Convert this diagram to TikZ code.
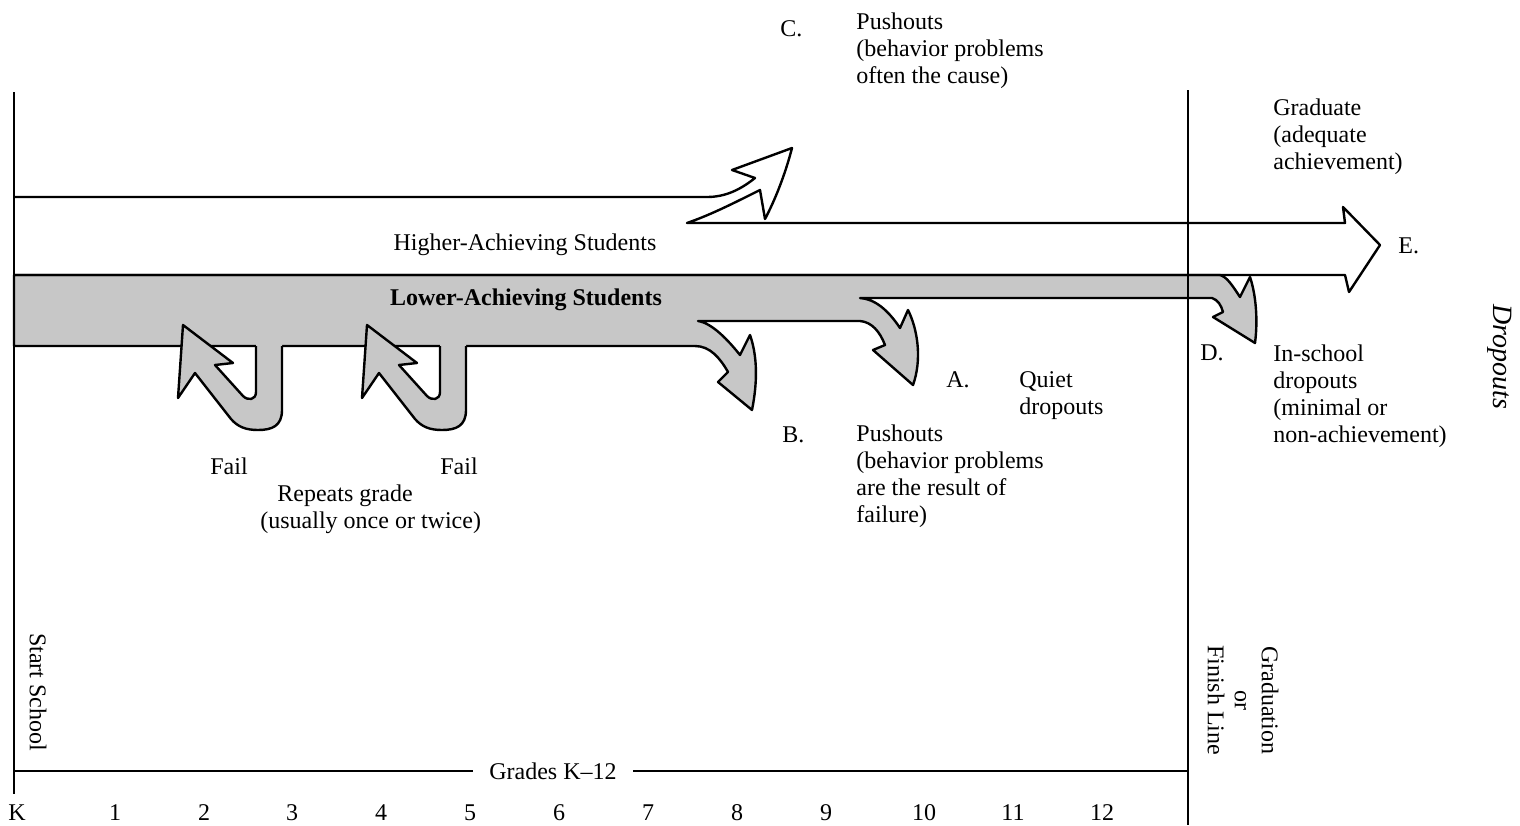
\documentclass[tikz,border=0pt]{standalone}
\usepackage{fontspec}
\setmainfont{Liberation Serif}
\definecolor{lowgray}{gray}{0.78}

\begin{document}
\begin{tikzpicture}[x=0.5pt,y=-0.5pt,
  every node/.style={font=\fontsize{12}{13.5}\selectfont,inner sep=0pt},
  lbl/.style={anchor=base west},
  blk/.style={anchor=north west,align=left},
  arr/.style={line width=1.2pt,line join=round},
  frame/.style={line width=1pt}]
\useasboundingbox (0,0) rectangle (1520,825);

% lower band with the dropout arrows B, A and D
\filldraw[arr,fill=lowgray] (14,346) -- (695,346) .. controls (710,346) and (720,358) .. (728,372)
  -- (718,382) -- (752,410) .. controls (758,380) and (757,355) .. (750,335)
  -- (740,355) .. controls (728,340) and (712,323) .. (698,321) -- (860,321)
  .. controls (872,322) and (880,332) .. (885,345) -- (873,350) -- (913,385)
  .. controls (922,360) and (918,330) .. (908,310) -- (900,328)
  .. controls (888,310) and (875,299) .. (860,298) -- (1212,298)
  .. controls (1218,300) and (1221,305) .. (1223,312) -- (1213,317) -- (1255,343)
  .. controls (1258,320) and (1256,295) .. (1250,277) -- (1240,297)
  .. controls (1232,285) and (1227,277) .. (1220,275) -- (14,275) -- cycle;

% repeats grade loops
\foreach \dx in {0,184} {
  \fill[lowgray,shift={(\dx,0)}] (282,340) -- (282,410) .. controls (282,426) and (272,430) .. (258,430)
    .. controls (246,430) and (238,427) .. (231,419) -- (195,373) -- (178,398) -- (183,325)
    -- (233,363) -- (215,365) -- (243,396) .. controls (248,401) and (256,400) .. (256,392)
    -- (256,340) -- cycle;
  \draw[arr,shift={(\dx,0)}] (282,346) -- (282,410) .. controls (282,426) and (272,430) .. (258,430)
    .. controls (246,430) and (238,427) .. (231,419) -- (195,373) -- (178,398) -- (183,325)
    -- (233,363) -- (215,365) -- (243,396) .. controls (248,401) and (256,400) .. (256,392)
    -- (256,346);
}

% higher band with pushout C and graduate E
\draw[arr] (14,197) -- (707,197) .. controls (725,197) and (740,190) .. (755,178)
  -- (732,170) -- (792,148) .. controls (785,175) and (775,200) .. (765,219)
  -- (760,190) .. controls (730,205) and (710,215) .. (687,223) -- (1345,223)
  -- (1343,207) -- (1380,245) -- (1349,292) -- (1345,275) -- (14,275);

\draw[frame] (14,92) -- (14,794);
\draw[frame] (1188,90) -- (1188,825);
\draw[frame] (14,771) -- (1188,771);

\node[lbl] (cdot) at (780,36) {C.};
\node[blk] (cpush) at (856,12) {Pushouts\\(behavior problems\\often the cause)};
\node[blk] (grad) at (1273,98) {Graduate\\(adequate\\achievement)};
\node[lbl] (edot) at (1398,253) {E.};
\node[anchor=base] (high) at (525,250) {Higher-Achieving Students};
\node[anchor=base,font=\fontsize{12}{13.5}\selectfont\bfseries] (low) at (526,305) {Lower-Achieving Students};
\node[lbl] (ddot) at (1200,360) {D.};
\node[blk] (insch) at (1273,344) {In-school\\dropouts\\(minimal or\\non-achievement)};
\node[lbl] (adot) at (946,387) {A.};
\node[blk] (quiet) at (1019,371) {Quiet\\dropouts};
\node[lbl] (bdot) at (782,442) {B.};
\node[blk] (bpush) at (856,424) {Pushouts\\(behavior problems\\are the result of\\failure)};
\node[lbl] (fail1) at (210,474) {Fail};
\node[lbl] (fail2) at (440,474) {Fail};
\node[lbl] (rep) at (277,501) {Repeats grade};
\node[lbl] (usu) at (260,528) {(usually once or twice)};

\node[rotate=-90] (start) at (38,692) {Start School};
\node[rotate=-90,align=center] (finish) at (1243,700) {Graduation\\or\\Finish Line};
\node[rotate=-90,font=\fontsize{14}{16}\selectfont\itshape] (drop) at (1500,357) {Dropouts};

\node[fill=white,inner xsep=8pt,inner ysep=2pt] (grades) at (553,771) {Grades K--12};
\node[anchor=base] (gK) at (17,820) {K};
\foreach \g/\gx in {1/115,2/204,3/292,4/381,5/470,6/559,7/648,8/737,9/826,10/924,11/1013,12/1102}
  \node[anchor=base] (g\g) at (\gx,820) {\g};
\end{tikzpicture}
\end{document}
